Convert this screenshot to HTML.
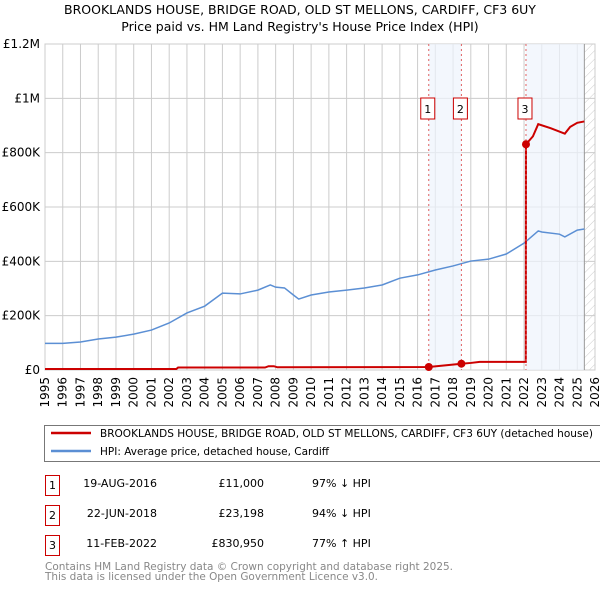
<!DOCTYPE html>
<html><head><meta charset="utf-8"><style>
body{margin:0;background:#fff;font-family:"Liberation Sans","DejaVu Sans",sans-serif;}
svg text{font-family:"DejaVu Sans","Liberation Sans",sans-serif;}
</style></head><body>
<svg id="chart" width="600" height="590" viewBox="0 0 600 590" xmlns="http://www.w3.org/2000/svg">
<defs><pattern id="hatch" width="6" height="6" patternUnits="userSpaceOnUse" patternTransform="rotate(45)"><line x1="0" y1="0" x2="0" y2="6" stroke="#ccc" stroke-width="1"/></pattern></defs>
<text x="300" y="14" text-anchor="middle" font-size="12.5" fill="#000">BROOKLANDS HOUSE, BRIDGE ROAD, OLD ST MELLONS, CARDIFF, CF3 6UY</text>
<text x="300" y="31" text-anchor="middle" font-size="12.5" fill="#000">Price paid vs. HM Land Registry's House Price Index (HPI)</text>
<g id="grid"></g><g id="shade"></g><g id="lines"></g><g id="axes"></g>
<rect x="44.5" y="425.5" width="560" height="36" fill="#fff" stroke="#777"/>
<line x1="51" y1="433" x2="91" y2="433" stroke="#cc0000" stroke-width="2.5"/>
<text x="100" y="437" font-size="10.5" textLength="493" lengthAdjust="spacingAndGlyphs">BROOKLANDS HOUSE, BRIDGE ROAD, OLD ST MELLONS, CARDIFF, CF3 6UY (detached house)</text>
<line x1="51" y1="451" x2="91" y2="451" stroke="#5b8fd4" stroke-width="2.5"/>
<text x="100" y="455" font-size="10.5" textLength="229" lengthAdjust="spacingAndGlyphs">HPI: Average price, detached house, Cardiff</text>
<g font-size="11">
<rect x="45.5" y="475.5" width="14" height="20" fill="#fff" stroke="#cc0000"/><text x="52.5" y="489" text-anchor="middle">1</text>
<text x="157" y="487" text-anchor="end">19-AUG-2016</text><text x="264" y="487" text-anchor="end">£11,000</text><text x="312" y="487">97% ↓ HPI</text>
<rect x="45.5" y="505.5" width="14" height="20" fill="#fff" stroke="#cc0000"/><text x="52.5" y="519" text-anchor="middle">2</text>
<text x="157" y="517" text-anchor="end">22-JUN-2018</text><text x="264" y="517" text-anchor="end">£23,198</text><text x="312" y="517">94% ↓ HPI</text>
<rect x="45.5" y="535.5" width="14" height="20" fill="#fff" stroke="#cc0000"/><text x="52.5" y="549" text-anchor="middle">3</text>
<text x="157" y="547" text-anchor="end">11-FEB-2022</text><text x="264" y="547" text-anchor="end">£830,950</text><text x="312" y="547">77% ↑ HPI</text>
</g>
<text x="45" y="570" font-size="11" fill="#888" textLength="408" lengthAdjust="spacingAndGlyphs">Contains HM Land Registry data © Crown copyright and database right 2025.</text>
<text x="45" y="580" font-size="11" fill="#888" textLength="333" lengthAdjust="spacingAndGlyphs">This data is licensed under the Open Government Licence v3.0.</text>
</svg>
<script>
const hpiYears=[1995,1996,1997,1998,1999,2000,2001,2002,2003,2004,2005,2006,2007,2007.7,2008,2008.5,2009,2009.3,2010,2011,2012,2013,2014,2015,2016,2017,2018,2019,2020,2021,2022,2022.8,2023,2024,2024.3,2025,2025.4];
const hpiValues=[98000,98000,103000,114000,121000,132000,147000,173000,210000,235000,283000,280000,294000,313000,305000,302000,276000,261000,276000,287000,294000,302000,313000,338000,350000,368000,383000,401000,408000,427000,467000,512000,508000,500000,490000,515000,519000];
const priceYears=[1995,2002.4,2002.5,2007.4,2007.6,2007.9,2008.1,2016.63,2018.47,2019.0,2019.5,2022.1,2022.11,2022.5,2022.8,2023.5,2024.3,2024.6,2025.0,2025.4];
const priceValues=[3500,3500,9000,9000,14000,14000,10000,11000,23198,26000,30000,30000,830950,860000,905000,890000,870000,895000,910000,915000];
const saleYears=[2016.63,2018.47,2022.11];
const saleValues=[11000,23198,830950];
const saleLabels=["1","2","3"];
const yTicks=[0,200000,400000,600000,800000,1000000,1200000];
const yTickLabels=["£0","£200K","£400K","£600K","£800K","£1M","£1.2M"];
const xTicks=[1995,1996,1997,1998,1999,2000,2001,2002,2003,2004,2005,2006,2007,2008,2009,2010,2011,2012,2013,2014,2015,2016,2017,2018,2019,2020,2021,2022,2023,2024,2025,2026];
const NS="http://www.w3.org/2000/svg";
const X0=45,X1=595,Y0=370,Y1=44;
const x=v=>X0+(v-1995)/(2026-1995)*(X1-X0);
const y=v=>Y0-v/1200000*(Y0-Y1);
function mk(tag,at,parent){const e=document.createElementNS(NS,tag);for(const k in at)e.setAttribute(k,at[k]);parent.appendChild(e);return e;}
const grid=document.getElementById('grid'),shade=document.getElementById('shade'),lines=document.getElementById('lines'),axes=document.getElementById('axes');
xTicks.forEach(t=>{const l=mk('line',{x1:x(t),x2:x(t),y1:Y1,y2:Y0,stroke:'#ccc'},grid);


const tx=mk('text',{x:0,y:0,'font-size':12,'text-anchor':'end',transform:`translate(${x(t)+4},${Y0+7}) rotate(-90)`},axes);tx.textContent=t;

});
yTicks.forEach((t,i)=>{const l=mk('line',{x1:X0,x2:X1,y1:y(t),y2:y(t),stroke:'#ccc'},grid);


const tx=mk('text',{x:40,y:y(t)+4,'font-size':12,'text-anchor':'end'},axes);tx.textContent=yTickLabels[i];

});
const s1=mk('rect',{x:x(saleYears[0]),y:Y1,width:x(saleYears[1])-x(saleYears[0]),height:Y0-Y1,fill:'#eef3fc',opacity:0.7},shade);


const s2=mk('rect',{x:x(saleYears[2]),y:Y1,width:x(2025.4)-x(saleYears[2]),height:Y0-Y1,fill:'#eef3fc',opacity:0.7},shade);


const h=mk('rect',{x:x(2025.4),y:Y1,width:X1-x(2025.4),height:Y0-Y1,fill:'url(#hatch)'},shade);


const fl=mk('line',{x1:x(2025.4),x2:x(2025.4),y1:Y1,y2:Y0,stroke:'#999'},shade);


const ax=mk('rect',{x:X0,y:Y1,width:X1-X0,height:Y0-Y1,fill:'none',stroke:'#ccc'},grid);


const hp=mk('polyline',{points:hpiYears.map((t,i)=>x(t)+','+y(hpiValues[i])).join(' '),fill:'none',stroke:'#5b8fd4','stroke-width':1.5},lines);


const pp=mk('polyline',{points:priceYears.map((t,i)=>x(t)+','+y(priceValues[i])).join(' '),fill:'none',stroke:'#cc0000','stroke-width':2},lines);


saleYears.forEach((t,i)=>{
const vl=mk('line',{x1:x(t),x2:x(t),y1:Y1,y2:Y0,stroke:'#e06060','stroke-dasharray':'2,3'},lines);


const c=mk('circle',{cx:x(t),cy:y(saleValues[i]),r:4,fill:'#cc0000'},lines);


const b=mk('rect',{x:x(t)-8,y:98,width:14,height:21,fill:'#fff',stroke:'#cc0000'},lines);


const tx=mk('text',{x:x(t)-1,y:113,'font-size':11,'text-anchor':'middle'},lines);tx.textContent=saleLabels[i];


});
</script>
</body></html>
